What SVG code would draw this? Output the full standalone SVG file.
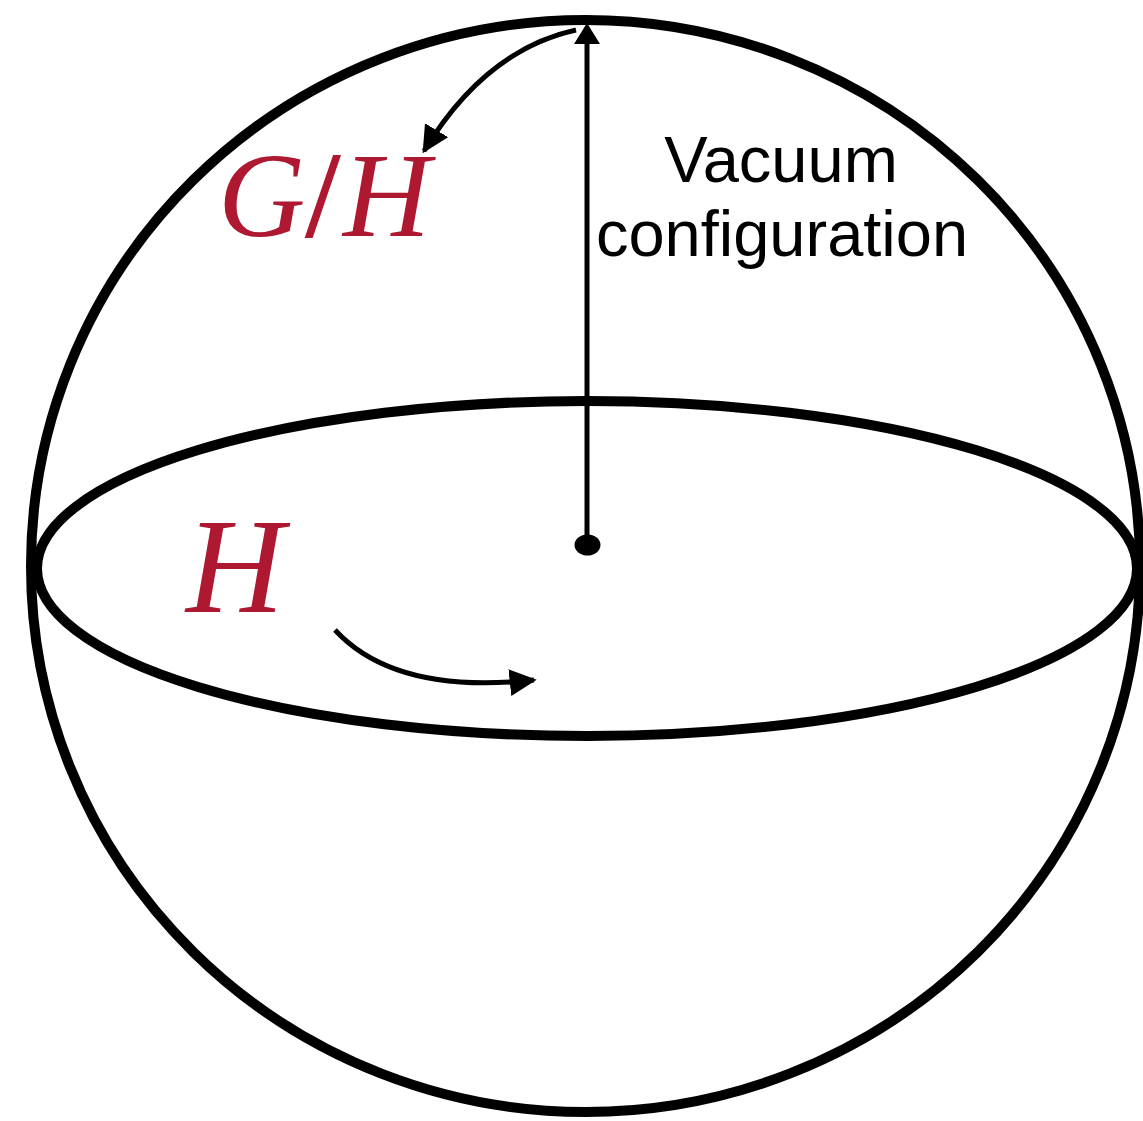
<svg xmlns="http://www.w3.org/2000/svg" width="1143" height="1121" viewBox="0 0 1143 1121">
<style>
.thick{fill:none;stroke:#000;stroke-width:10}
.thin{fill:none;stroke:#000;stroke-width:5}
.math{font-family:"Liberation Serif","DejaVu Serif",serif;font-style:italic;fill:#AE1830}
.up{font-style:normal;stroke:#AE1830;stroke-width:2}
.lbl{font-family:"Liberation Sans",Arial,sans-serif;font-size:65px;fill:#000;text-anchor:middle}
</style>
<defs>
<marker id="ah" viewBox="0 0 10 10" refX="9" refY="5" markerWidth="5.4" markerHeight="5.4" orient="auto" markerUnits="strokeWidth">
<path d="M0,0 L10,5 L0,10 z" fill="#000"/>
</marker>
</defs>
<rect width="1143" height="1121" fill="#fff"/>
<g id="sphere">
<ellipse class="thick" cx="585.5" cy="566" rx="554.5" ry="546"/>
</g>
<g id="equator">
<ellipse class="thick" cx="587" cy="568.5" rx="550" ry="167.5"/>
</g>
<g id="center">
<ellipse cx="587.5" cy="545" rx="13" ry="10.5" fill="#000"/>
</g>
<g id="connectors">
<line class="thin" x1="587" y1="545" x2="587" y2="40"/>
<polygon points="587,23 574,44 600,44" fill="#000"/>
<path class="thin" d="M576,30 Q485,50 424,151" marker-end="url(#ah)"/>
<path class="thin" d="M335,630 Q395,695 534,680" marker-end="url(#ah)"/>
</g>
<g id="label-GH">
<text class="math" font-size="121" y="236"><tspan x="218">G</tspan><tspan class="up" x="306">/</tspan><tspan x="343">H</tspan></text>
</g>
<g id="label-H">
<text class="math" font-size="136" x="186" y="612">H</text>
</g>
<g id="label-vacuum">
<text class="lbl" x="781" y="182">Vacuum</text>
<text class="lbl" x="782" y="256">configuration</text>
</g>
</svg>
